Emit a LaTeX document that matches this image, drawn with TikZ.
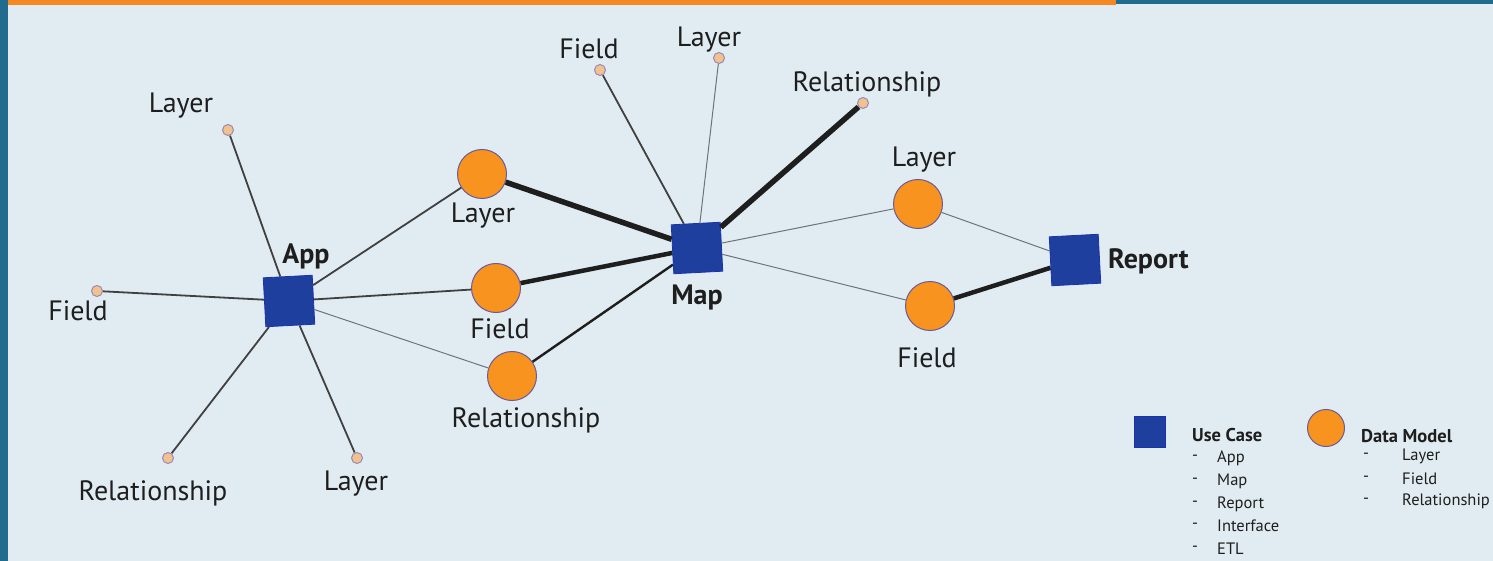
\documentclass[tikz,border=0pt]{standalone}
\usepackage{fontspec}
\setmainfont{PT Sans}
\definecolor{bg}{HTML}{E1ECF2}
\definecolor{strip}{HTML}{216B8E}
\definecolor{obar}{HTML}{F7881F}
\definecolor{ucblue}{HTML}{1F3F9E}
\definecolor{dmorange}{HTML}{F7931E}
\definecolor{dmedge}{HTML}{6A5A9A}
\definecolor{dotfill}{HTML}{F2C28E}
\definecolor{dotedge}{HTML}{9A88B8}
\definecolor{ink}{HTML}{1E1E1E}
\definecolor{thin}{HTML}{6E7378}
\tikzset{
  usecase/.style={draw=ucblue!80!blue, line width=0.8pt, fill=ucblue, minimum size=49pt, inner sep=0pt, rotate=3},
  datamodel/.style={circle, draw=dmedge, line width=1pt, fill=dmorange, minimum size=49pt, inner sep=0pt},
  leaf/.style={circle, draw=dotedge, line width=1pt, fill=dotfill, minimum size=11pt, inner sep=0pt},
  lbl/.style={text=ink, font=\fontsize{28}{30}\selectfont, inner sep=0pt, yshift=-2pt},
  blbl/.style={text=ink, font=\bfseries\fontsize{28}{30}\selectfont, inner sep=0pt, yshift=-2pt},
  lgh/.style={text=ink, font=\bfseries\fontsize{18.5}{20}\selectfont, inner sep=0pt, anchor=west},
  lgi/.style={text=ink, font=\fontsize{16.5}{18}\selectfont, inner sep=0pt, anchor=west},
  e1/.style={draw=thin, line width=1pt},
  e2/.style={draw=ink!85, line width=1.8pt},
  e3/.style={draw=ink, line width=2.4pt},
  e5/.style={draw=ink, line width=4.5pt},
  e6/.style={draw=ink, line width=5.5pt},
}
\begin{document}
\begin{tikzpicture}[x=1pt,y=-1pt]
\useasboundingbox (0,0) rectangle (1493,561);
\fill[bg] (0,0) rectangle (1493,561);
\fill[strip] (0,0) rectangle (8,561);
\fill[strip] (1116,0) rectangle (1493,4);
\fill[obar] (8,0) rectangle (1116,5);

% main nodes
\node[usecase] (app) at (289,301) {};
\node[usecase] (map) at (697,248) {};
\node[usecase] (rep) at (1075,260) {};

\node[datamodel] (l1) at (482,174) {};
\node[datamodel] (f1) at (496,288) {};
\node[datamodel] (r1) at (512,376) {};
\node[datamodel] (l2) at (918,204) {};
\node[datamodel] (f2) at (930,306) {};

% leaves
\node[leaf] (aL) at (228,130) {};
\node[leaf] (aF) at (97,291) {};
\node[leaf] (aR) at (168,458) {};
\node[leaf] (aL2) at (357,458) {};
\node[leaf] (mF) at (600,70) {};
\node[leaf] (mL) at (719,58) {};
\node[leaf] (mR) at (863,103) {};

% edges
\path[e2] (app) -- (aL);
\path[e2] (app) -- (aF);
\path[e2] (app) -- (aR);
\path[e2] (app) -- (aL2);
\path[e2] (app) -- (l1);
\path[e2] (app) -- (f1);
\path[e1] (app) -- (r1);
\path[e6] (l1) -- (map);
\path[e5] (f1) -- (map);
\path[e3] (r1) -- (map);
\path[e2] (map) -- (mF);
\path[e1] (map) -- (mL);
\path[e6] (map) -- (mR);
\path[e1] (map) -- (l2);
\path[e1] (map) -- (f2);
\path[e1] (l2) -- (rep);
\path[e5] (f2) -- (rep);

% labels
\node[lbl] (taL) at (181,104) {Layer};
\node[lbl] (taF) at (78,309) {Field};
\node[lbl] (taR) at (153,491) {Relationship};
\node[lbl] (taL2) at (356,482) {Layer};
\node[blbl] (tapp) at (306,254) {App};
\node[lbl] (tl1) at (483,214) {Layer};
\node[lbl] (tf1) at (500,327) {Field};
\node[lbl] (tr1) at (526,418) {Relationship};
\node[blbl] (tmap) at (697,295) {Map};
\node[lbl] (tmF) at (589,47) {Field};
\node[lbl] (tmL) at (709,38) {Layer};
\node[lbl] (tmR) at (867,82) {Relationship};
\node[lbl] (tl2) at (924,158) {Layer};
\node[lbl] (tf2) at (927,356) {Field};
\node[blbl, anchor=west] (trep) at (1108,259) {Report};

% legend
\node[draw=ucblue!80!blue, fill=ucblue, minimum size=31pt, inner sep=0pt] (lgsq) at (1150,432) {};
\node[lgh] (lguc) at (1192,435) {Use Case};
\foreach \t/\y in {App/458, Map/481, Report/504, Interface/526, ETL/549}{
  \node[lgi] at (1192,\y) {-};
  \node[lgi] at (1217,\y) {\t};
}
\node[circle, draw=dmedge, line width=1pt, fill=dmorange, minimum size=37pt, inner sep=0pt] (lgci) at (1326,428) {};
\node[lgh] (lgdm) at (1361,436) {Data Model};
\foreach \t/\y in {Layer/456, Field/479, Relationship/501}{
  \node[lgi] at (1363,\y) {-};
  \node[lgi] at (1402,\y) {\t};
}
\end{tikzpicture}
\end{document}
